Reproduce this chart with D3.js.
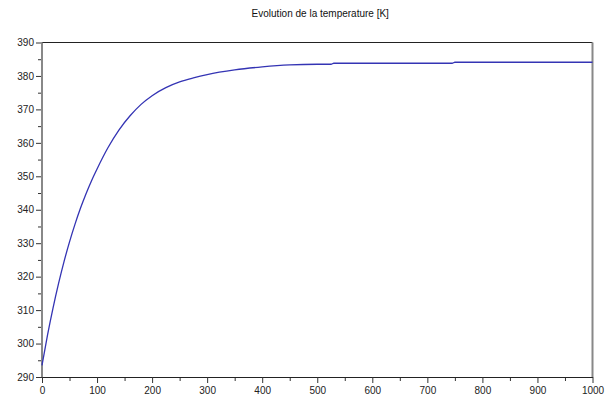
<!DOCTYPE html>
<html lang="fr">
<head>
  <meta charset="utf-8" />
  <title>Evolution de la temperature</title>
  <script src="https://cdn.jsdelivr.net/npm/d3@7"></script>
  <style>
    body { margin: 0; background: #fff; }
    text { font-family: "Liberation Sans", Arial, sans-serif; }
  </style>
</head>
<body>
  <div id="chart"></div>
  <script>
    // valeurs (temps, temperature)
    const times = [0, 10, 20, 30, 40, 50, 60, 70, 80, 90, 100, 120, 140, 160, 180, 200,
                   225, 250, 275, 300, 350, 400, 450, 500, 525, 530, 600, 700, 745, 750, 800, 900, 1000];
    const temps = [293.5, 302.5, 310.6, 317.9, 324.5, 330.4, 335.7, 340.5, 344.8, 348.7, 352.2,
                   358.6, 363.9, 368.1, 371.5, 374.1, 376.5, 378.2, 379.4, 380.4, 381.8, 382.7,
                   383.3, 383.5, 383.5, 383.8, 383.8, 383.8, 383.8, 384.1, 384.1, 384.1, 384.1];
    const xTicks = [0, 100, 200, 300, 400, 500, 600, 700, 800, 900, 1000];
    const yTicks = [290, 300, 310, 320, 330, 340, 350, 360, 370, 380, 390];
    const title = "Evolution de la temperature [K]";

    const data = times.map((t, i) => ({ t, T: temps[i] }));

    const width = 607;
    const height = 397;
    const marginTop = 42.5;
    const marginRight = 14.5;
    const marginBottom = 20;
    const marginLeft = 42;

    const x = d3.scaleLinear()
        .domain([0, 1000])
        .range([marginLeft, width - marginRight]);

    const y = d3.scaleLinear()
        .domain([290, 390])
        .range([height - marginBottom, marginTop]);

    const svg = d3.select("#chart")
        .append("svg")
        .attr("width", width)
        .attr("height", height)
        .attr("viewBox", [0, 0, width, height]);

    // titre
    svg.append("text")
        .attr("x", (x.range()[0] + x.range()[1]) / 2 + 3)
        .attr("y", 17)
        .attr("text-anchor", "middle")
        .attr("font-size", 10)
        .attr("fill", "#111")
        .text(title);

    // cadre : haut noir, droite gris
    svg.append("line")
        .attr("x1", x(0)).attr("x2", x(1000))
        .attr("y1", y(390)).attr("y2", y(390))
        .attr("stroke", "#222");
    svg.append("line")
        .attr("x1", x(1000)).attr("x2", x(1000))
        .attr("y1", y(390)).attr("y2", y(290))
        .attr("stroke", "#888").attr("stroke-width", 2);

    // axe X (graduations mineures tous les 50)
    const gx = svg.append("g")
        .attr("transform", `translate(0,${y(290)})`);
    gx.call(d3.axisBottom(x).tickValues(d3.range(50, 1000, 100)).tickSize(4).tickFormat(""))
      .call(g => g.select(".domain").remove());
    gx.append("g")
      .call(d3.axisBottom(x).tickValues(xTicks).tickSize(6).tickPadding(4).tickSizeOuter(0)
          .tickFormat(d3.format("d")))
      .call(g => g.select(".domain").attr("stroke", "#222"))
      .call(g => g.selectAll("text").attr("font-size", 10).attr("fill", "#222")
          .attr("font-family", "Liberation Sans, Arial, sans-serif"));
    gx.selectAll(".tick line").attr("stroke", "#333");

    // axe Y (graduations mineures tous les 5)
    const gy = svg.append("g")
        .attr("transform", `translate(${x(0)},0)`);
    gy.call(d3.axisLeft(y).tickValues(d3.range(295, 390, 10)).tickSize(4).tickFormat(""))
      .call(g => g.select(".domain").remove());
    gy.append("g")
      .call(d3.axisLeft(y).tickValues(yTicks).tickSize(6).tickPadding(2).tickSizeOuter(0))
      .call(g => g.selectAll("text").attr("font-size", 10).attr("fill", "#222")
          .attr("font-family", "Liberation Sans, Arial, sans-serif"))
      .call(g => g.select(".domain").remove());
    gy.selectAll(".tick line").attr("stroke", "#333");
    gy.append("line")
      .attr("y1", y(390)).attr("y2", y(290))
      .attr("stroke", "#888").attr("stroke-width", 2);

    // courbe
    const line = d3.line()
        .x(d => x(d.t))
        .y(d => y(d.T))
        .curve(d3.curveMonotoneX);

    svg.append("path")
        .datum(data)
        .attr("fill", "none")
        .attr("stroke", "#3434b4")
        .attr("stroke-width", 1.3)
        .attr("d", line);
  </script>
</body>
</html>
